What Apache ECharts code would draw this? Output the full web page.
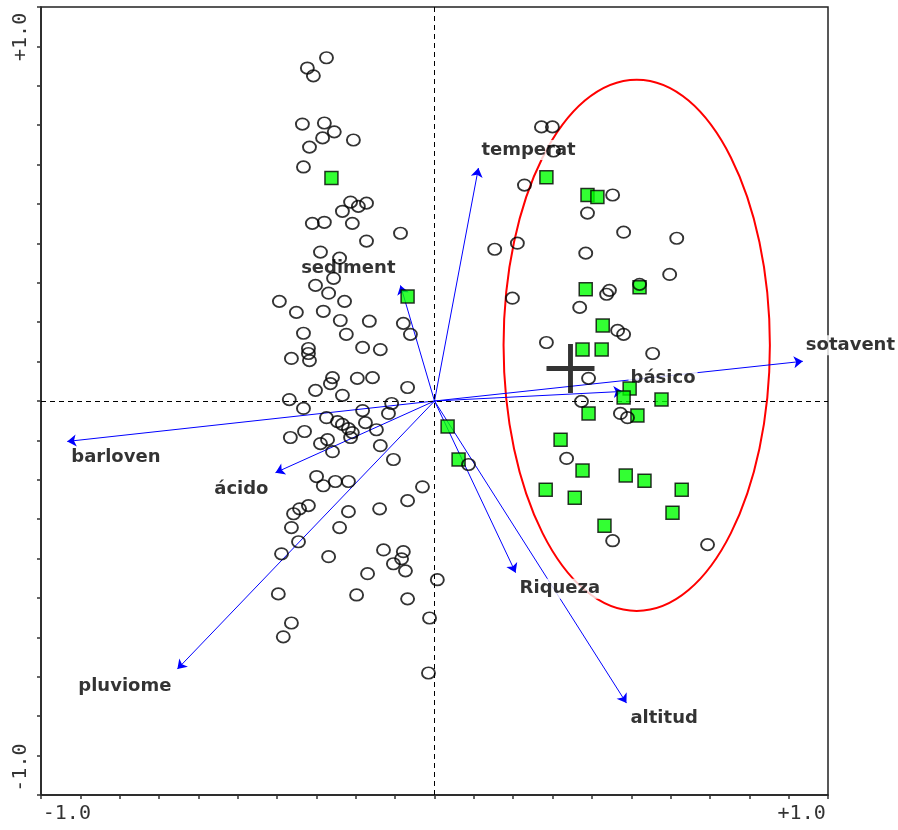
<!DOCTYPE html>
<html>
<head>
<meta charset="utf-8">
<title>Biplot</title>
<script src="https://cdn.jsdelivr.net/npm/echarts@6/dist/echarts.min.js"></script>
<style>
    html, body { margin: 0; padding: 0; background: #fff; }
    #main { width: 898px; height: 830px; }
</style>
</head>
<body>
<div id="main"></div>
<script>
    // ejes de -10/9 a +10/9, marcas cada 1/9
    var axisMin = -10 / 9, axisMax = 10 / 9, axisStep = 1 / 9;
    var tickValues = [-1, 1];
    var xTickLabels = ['-1.0', '+1.0'];
    var yTickLabels = ['-1.0', '+1.0'];

    // vectores ambientales
    var vectorNames = ['temperat', 'sediment', 'sotavent', 'básico', 'barloven', 'ácido', 'pluviome', 'Riqueza', 'altitud'];
    var vectorX = [0.124, -0.096, 1.040, 0.531, -1.037, -0.449, -0.726, 0.229, 0.542];
    var vectorY = [0.657, 0.326, 0.112, 0.027, -0.114, -0.202, -0.756, -0.484, -0.852];

    // muestras (círculos)
    var circles = [
        [-0.305,0.968],[-0.359,0.939],[-0.342,0.917],[-0.373,0.781],[-0.311,0.784],[-0.283,0.759],[-0.316,0.742],[-0.229,0.736],[-0.353,0.716],[-0.370,0.660],
        [-0.237,0.561],[-0.215,0.549],[-0.192,0.558],[-0.260,0.535],[-0.345,0.501],[-0.311,0.504],[-0.232,0.501],[-0.096,0.473],[-0.192,0.451],[-0.322,0.420],
        [-0.268,0.403],[-0.285,0.346],[-0.336,0.326],[-0.299,0.304],[-0.438,0.281],[-0.254,0.281],[-0.390,0.250],[-0.314,0.253],[-0.266,0.227],[-0.184,0.225],
        [-0.088,0.219],[-0.068,0.188],[-0.370,0.191],[-0.249,0.188],[-0.203,0.151],[-0.153,0.145],[-0.356,0.148],[-0.356,0.134],[-0.353,0.114],[-0.404,0.120],
        [-0.288,0.066],[-0.294,0.049],[-0.218,0.064],[-0.175,0.066],[-0.076,0.038],[-0.336,0.030],[-0.260,0.016],[-0.410,0.004],[-0.370,-0.021],[-0.203,-0.027],
        [-0.121,-0.007],[-0.130,-0.035],[-0.305,-0.047],[-0.274,-0.058],[-0.260,-0.066],[-0.243,-0.078],[-0.232,-0.089],[-0.195,-0.061],[-0.164,-0.081],[-0.367,-0.086],
        [-0.407,-0.103],[-0.322,-0.120],[-0.302,-0.109],[-0.288,-0.143],[-0.237,-0.103],[-0.153,-0.126],[-0.116,-0.165],[-0.333,-0.213],[-0.314,-0.239],[-0.280,-0.227],
        [-0.243,-0.227],[-0.034,-0.242],[-0.076,-0.281],[-0.155,-0.304],[-0.243,-0.312],[-0.356,-0.295],[-0.381,-0.304],[-0.398,-0.318],[-0.404,-0.357],[-0.268,-0.357],
        [-0.384,-0.397],[-0.432,-0.431],[-0.299,-0.439],[-0.144,-0.420],[-0.088,-0.425],[-0.093,-0.445],[-0.116,-0.459],[-0.082,-0.479],[-0.189,-0.487],[0.008,-0.504],
        [-0.441,-0.544],[-0.220,-0.547],[-0.076,-0.558],[-0.404,-0.626],[-0.427,-0.665],[-0.014,-0.612],[-0.017,-0.767],
        [0.302,0.773],[0.333,0.773],[0.336,0.705],[0.254,0.609],[0.503,0.581],[0.432,0.530],[0.534,0.476],[0.684,0.459],[0.170,0.428],[0.234,0.445],
        [0.427,0.417],[0.664,0.357],[0.579,0.329],[0.494,0.312],[0.486,0.301],[0.220,0.290],[0.410,0.264],[0.517,0.199],[0.534,0.188],[0.316,0.165],
        [0.616,0.134],[0.435,0.064],[0.415,-0.001],[0.525,-0.035],[0.545,-0.047],[0.096,-0.179],[0.373,-0.162],[0.503,-0.394],[0.771,-0.405]
    ];

    // muestras del grupo (cuadrados verdes)
    var squares = [
        [-0.291,0.629],[-0.076,0.295],[0.316,0.631],[0.432,0.581],[0.460,0.575],[0.579,0.321],[0.427,0.315],[0.475,0.213],[0.418,0.145],[0.472,0.145],
        [0.551,0.035],[0.534,0.010],[0.641,0.004],[0.435,-0.035],[0.573,-0.041],[0.037,-0.072],[0.068,-0.165],[0.356,-0.109],[0.418,-0.196],[0.540,-0.210],
        [0.593,-0.225],[0.314,-0.250],[0.396,-0.273],[0.698,-0.250],[0.672,-0.315],[0.480,-0.352]
    ];

    var centroid = [0.384, 0.092];
    var ellipse = [0.571, 0.157, 0.376, 0.749]; // cx, cy, rx, ry

    // colocación de las etiquetas de los vectores: [align, dx, dy]
    var vectorLabelPlace = [
        ['left', 1, -18], ['right', -3, -17], ['left', 1, -16], ['left', 6, -13], ['left', 2, 16],
        ['right', -5, 17], ['right', -4, 17], ['left', 2, 16], ['left', 2, 15]
    ];

    function tickIndex(v) {
        for (var i = 0; i < tickValues.length; i++) {
            if (Math.abs(tickValues[i] - v) < 1e-6) return i;
        }
        return -1;
    }

    var vectorLines = [], vectorTips = [];
    for (var i = 0; i < vectorNames.length; i++) {
        vectorLines.push({ coords: [[0, 0], [vectorX[i], vectorY[i]]] });
        vectorTips.push({
            name: vectorNames[i],
            value: [vectorX[i], vectorY[i]],
            label: { align: vectorLabelPlace[i][0], offset: [vectorLabelPlace[i][1], vectorLabelPlace[i][2]] }
        });
    }

    var myChart = echarts.init(document.getElementById('main'));
    var option = {
        animation: false,
        grid: { left: 41, right: 70, top: 7, bottom: 35, show: true, borderColor: '#222', borderWidth: 1.5 },
        xAxis: {
            type: 'value', min: axisMin, max: axisMax, interval: axisStep,
            splitLine: { show: false },
            axisLine: { onZero: false, lineStyle: { color: '#222', width: 1.5 } },
            axisTick: { length: 4, lineStyle: { color: '#333', width: 1.5 } },
            axisLabel: {
                margin: 9,
                formatter: function (v) {
                    var k = tickIndex(v);
                    return k < 0 ? '' : '{' + (k === 0 ? 'lo' : 'hi') + '|' + xTickLabels[k] + '}';
                },
                rich: {
                    lo: { fontFamily: 'DejaVu Sans Mono', fontSize: 20, color: '#333', padding: [0, 27, 0, 0] },
                    hi: { fontFamily: 'DejaVu Sans Mono', fontSize: 20, color: '#333', padding: [0, 0, 0, 26] }
                }
            }
        },
        yAxis: {
            type: 'value', min: axisMin, max: axisMax, interval: axisStep,
            splitLine: { show: false },
            axisLine: { onZero: false, lineStyle: { color: '#222', width: 1.5 } },
            axisTick: { length: 4, lineStyle: { color: '#333', width: 1.5 } },
            axisLabel: {
                rotate: 90,
                margin: 10,
                formatter: function (v) {
                    var k = tickIndex(v);
                    return k < 0 ? '' : '{' + (k === 0 ? 'lo' : 'hi') + '|' + yTickLabels[k] + '}';
                },
                rich: {
                    lo: { fontFamily: 'DejaVu Sans Mono', fontSize: 20, color: '#333', padding: [0, 24, 0, 0] },
                    hi: { fontFamily: 'DejaVu Sans Mono', fontSize: 20, color: '#333', padding: [0, 0, 0, 19] }
                }
            }
        },
        series: [
            {
                // elipse del grupo + ejes punteados
                type: 'custom',
                z: 1,
                silent: true,
                data: [ellipse],
                renderItem: function (params, api) {
                    var c = api.coord([api.value(0), api.value(1)]);
                    var s = api.size([api.value(2), api.value(3)]);
                    return {
                        type: 'ellipse',
                        shape: { cx: c[0], cy: c[1], rx: s[0], ry: s[1] },
                        style: { fill: 'none', stroke: '#ff0000', lineWidth: 2 }
                    };
                },
                markLine: {
                    silent: true,
                    symbol: ['none', 'none'],
                    label: { show: false },
                    lineStyle: { color: '#000', type: [5, 4], width: 1 },
                    data: [{ xAxis: 0 }, { yAxis: 0 }]
                }
            },
            {
                type: 'lines',
                coordinateSystem: 'cartesian2d',
                z: 3,
                silent: true,
                symbol: ['none', 'arrow'],
                symbolSize: 9,
                lineStyle: { color: '#0000ff', width: 1, opacity: 1 },
                data: vectorLines
            },
            {
                type: 'scatter',
                z: 4,
                silent: true,
                symbolSize: 1,
                itemStyle: { color: 'rgba(0,0,0,0)' },
                label: {
                    show: true,
                    position: 'inside',
                    verticalAlign: 'middle',
                    formatter: '{b}',
                    fontFamily: 'DejaVu Sans',
                    fontWeight: 'bold',
                    fontSize: 18,
                    color: '#000',
                    backgroundColor: '#fff',
                    padding: [1, 2]
                },
                data: vectorTips
            },
            {
                type: 'scatter',
                z: 5,
                symbol: 'rect',
                symbolSize: 13,
                itemStyle: { color: '#00ff00', borderColor: '#000', borderWidth: 1.5 },
                data: squares
            },
            {
                type: 'scatter',
                z: 6,
                symbol: 'circle',
                symbolSize: [13, 11.5],
                itemStyle: { color: 'rgba(0,0,0,0)', borderColor: '#000', borderWidth: 1.8 },
                data: circles
            },
            {
                type: 'scatter',
                z: 7,
                symbol: 'path://M22,0H27V22H49V27H27V49H22V27H0V22H22Z',
                symbolSize: [48, 49],
                itemStyle: { color: '#000' },
                data: [centroid]
            }
        ]
    };
    myChart.setOption(option);
</script>
</body>
</html>
